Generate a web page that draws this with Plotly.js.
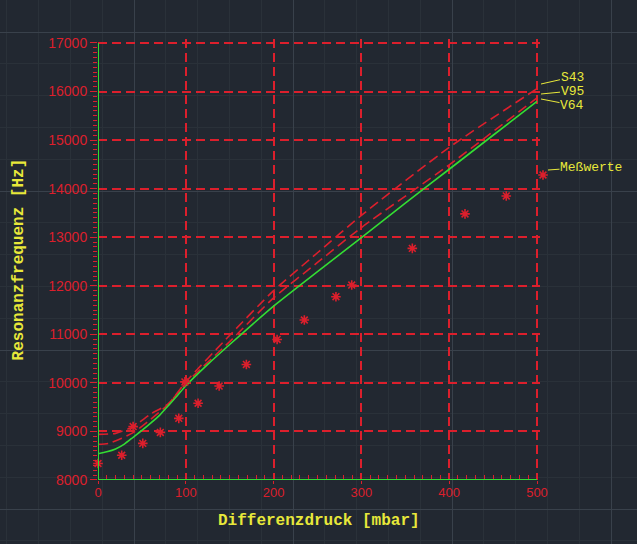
<!DOCTYPE html>
<html>
<head>
<meta charset="utf-8">
<script src="https://cdn.plot.ly/plotly-3.0.1.min.js"></script>
<style>
  html, body { margin: 0; padding: 0; background: #222831; }
  #chart { width: 637px; height: 544px; }
</style>
</head>
<body>
<div id="chart"></div>
<script>
// ---- Data ----
// Curve V64 (green, solid)
const pressureV64 = [0, 10, 20, 30, 40, 50, 60, 70, 80, 90, 100, 125, 150, 175, 200, 250, 300, 350, 400, 450, 500];
const freqV64     = [8540, 8580, 8640, 8740, 8880, 9020, 9170, 9330, 9530, 9730, 9940, 10380, 10790, 11190, 11580, 12290, 12990, 13700, 14400, 15100, 15800];

// Curve S43 (red, dashed, upper)
const pressureS43 = [0, 20, 40, 60, 80, 100, 150, 200, 250, 300, 400, 500];
const freqS43     = [8940, 8960, 9100, 9360, 9570, 10020, 10980, 11900, 12680, 13450, 14850, 16060];

// Curve V95 (red, dashed, middle)
const pressureV95 = [0, 12, 27, 42, 60, 80, 100, 150, 200, 250, 300, 400, 500];
const freqV95     = [8735, 8755, 8860, 8995, 9250, 9560, 9990, 10850, 11750, 12480, 13200, 14490, 15870];

// Measured values (Meßwerte)
const pressureMeas = [0, 27, 40, 51, 71, 92, 99, 114, 138, 169, 204, 235, 271, 289, 358, 418, 465];
const freqMeas     = [8340, 8510, 9100, 8755, 8980, 9270, 10020, 9580, 9935, 10380, 10895, 11295, 11775, 12015, 12770, 13480, 13850];

// Axis extents / tick steps (plot ranges padded a little so the edge grid lines at 500 / 17000 are drawn)
const xMin = 0, xMax = 500, xStep = 100, xMinorStep = 10;
const yMin = 8000, yMax = 17000, yStep = 1000, yMinorStep = 100;
const xRange = [xMin, 503];
const yRange = [yMin, 17080];

// Curve labels
const curveLabels = ['S43', 'V95', 'V64'];
const measLabel = 'Meßwerte';

// ---- Styles ----
const RED = '#dc1f2c';
const GREEN = '#33dd33';
const YELLOW = '#e8e83a';
const BG = '#222831';
const W = 637, H = 544;
const px = (v) => v / W, py = (v) => 1 - v / H;
const asterisk = { symbol: 'asterisk-open', size: 8, color: RED, line: { color: RED, width: 1.6 } };
const labelFont = { family: 'Liberation Mono, monospace', size: 13, color: YELLOW };

const traces = [
  // key symbol for "Meßwerte", placed in the full-figure background frame (pixel units)
  { x: [543], y: [175], xaxis: 'x', yaxis: 'y', mode: 'markers', marker: asterisk, hoverinfo: 'skip', showlegend: false },
  { x: pressureS43, y: freqS43, xaxis: 'x2', yaxis: 'y2', mode: 'lines', name: curveLabels[0],
    line: { color: RED, width: 1.6, dash: '10px,5px', shape: 'spline', smoothing: 0.6 }, showlegend: false },
  { x: pressureV95, y: freqV95, xaxis: 'x2', yaxis: 'y2', mode: 'lines', name: curveLabels[1],
    line: { color: RED, width: 1.6, dash: '10px,5px', shape: 'spline', smoothing: 0.6 }, showlegend: false },
  { x: pressureV64, y: freqV64, xaxis: 'x2', yaxis: 'y2', mode: 'lines', name: curveLabels[2],
    line: { color: GREEN, width: 1.6, shape: 'spline', smoothing: 0.6 }, showlegend: false },
  { x: pressureMeas, y: freqMeas, xaxis: 'x2', yaxis: 'y2', mode: 'markers', name: measLabel, cliponaxis: false,
    marker: asterisk, showlegend: false }
];

const gridBgX = {
  domain: [0, 1], range: [0, W], showgrid: true, gridcolor: '#39414b', gridwidth: 1,
  tick0: 134, dtick: 159, showticklabels: false, ticks: '', zeroline: false, showline: false, fixedrange: true,
  minor: { tick0: 134, dtick: 31.8, showgrid: true, gridcolor: '#2a3139', gridwidth: 1 }
};
const gridBgY = {
  domain: [0, 1], range: [H, 0], showgrid: true, gridcolor: '#39414b', gridwidth: 1,
  tick0: 32, dtick: 159, showticklabels: false, ticks: '', zeroline: false, showline: false, fixedrange: true,
  minor: { tick0: 32, dtick: 31.8, showgrid: true, gridcolor: '#2a3139', gridwidth: 1 }
};

// pixel scale of the reference: 0..500 mbar -> 98..537 px, 8000..17000 Hz -> 480..43 px
const xPxPerUnit = (537 - 98) / (xMax - xMin), yPxPerUnit = (480 - 43) / (yMax - yMin);
const xRight = 98 + (xRange[1] - xRange[0]) * xPxPerUnit;
const yTop = 480 - (yRange[1] - yRange[0]) * yPxPerUnit;
const seq = (a, b, s) => Array.from({ length: Math.round((b - a) / s) + 1 }, (_, i) => a + i * s);

const layout = {
  width: W, height: H,
  margin: { l: 0, r: 0, t: 0, b: 0, pad: 0 },
  paper_bgcolor: BG, plot_bgcolor: 'rgba(0,0,0,0)',
  showlegend: false,
  xaxis: gridBgX,
  yaxis: gridBgY,
  xaxis2: {
    domain: [px(98), px(xRight)], anchor: 'y2', range: xRange,
    tick0: 0, dtick: xStep, tickformat: 'd',
    showgrid: true, gridcolor: RED, gridwidth: 2, griddash: '9px,5px',
    showline: false, zeroline: false,
    ticks: 'outside', ticklen: 3, tickcolor: RED, tickwidth: 1, ticklabelstandoff: -3,
    minor: { tickmode: 'array', tickvals: seq(xMin, xMax, xMinorStep),
             ticks: 'inside', ticklen: 5, tickcolor: RED, tickwidth: 1, showgrid: false },
    tickfont: { family: 'Liberation Sans, Arial, sans-serif', size: 13, color: RED },
    title: { text: 'Differenzdruck [mbar]', standoff: 15,
      font: { family: 'Liberation Mono, Courier New, monospace', size: 16, color: YELLOW, weight: 'bold' } }
  },
  yaxis2: {
    domain: [py(480), py(yTop)], anchor: 'x2', range: yRange,
    tick0: 8000, dtick: yStep, tickformat: 'd',
    showgrid: true, gridcolor: RED, gridwidth: 2, griddash: '9px,5px',
    showline: false, zeroline: false,
    ticks: 'outside', ticklen: 7, tickcolor: RED, tickwidth: 1,
    minor: { tickmode: 'array', tickvals: seq(yMin, yMax, yMinorStep),
             ticks: 'outside', ticklen: 4, tickcolor: RED, tickwidth: 1, showgrid: false },
    tickfont: { family: 'Liberation Sans, Arial, sans-serif', size: 14, color: RED },
    title: { text: 'Resonanzfrequenz [Hz]', standoff: 20,
      font: { family: 'Liberation Mono, Courier New, monospace', size: 16, color: YELLOW, weight: 'bold' } }
  },
  shapes: [
    // green axis base lines
    { type: 'line', xref: 'x2', yref: 'y2', x0: xMin, x1: xMax, y0: yMin, y1: yMin, line: { color: GREEN, width: 2 } },
    { type: 'line', xref: 'x2', yref: 'y2', x0: xMin, x1: xMin, y0: yMin, y1: yMax, line: { color: GREEN, width: 2 } }
  ],
  annotations: [
    { xref: 'paper', yref: 'paper', x: px(541), y: py(84), text: curveLabels[0], showarrow: true, arrowhead: 0,
      arrowwidth: 1, arrowcolor: YELLOW, ax: 31, ay: -7, standoff: 0, borderpad: 0, font: labelFont },
    { xref: 'paper', yref: 'paper', x: px(541), y: py(94), text: curveLabels[1], showarrow: true, arrowhead: 0,
      arrowwidth: 1, arrowcolor: YELLOW, ax: 31, ay: -3, standoff: 0, borderpad: 0, font: labelFont },
    { xref: 'paper', yref: 'paper', x: px(541), y: py(99), text: curveLabels[2], showarrow: true, arrowhead: 0,
      arrowwidth: 1, arrowcolor: YELLOW, ax: 31, ay: 6, standoff: 0, borderpad: 0, font: labelFont },
    { xref: 'paper', yref: 'paper', x: px(548), y: py(170), text: measLabel, showarrow: true, arrowhead: 0,
      arrowwidth: 1, arrowcolor: YELLOW, ax: 43, ay: -3, standoff: 0, borderpad: 0, font: labelFont }
  ]
};

Plotly.newPlot('chart', traces, layout, { displayModeBar: false, staticPlot: true });
</script>
</body>
</html>
